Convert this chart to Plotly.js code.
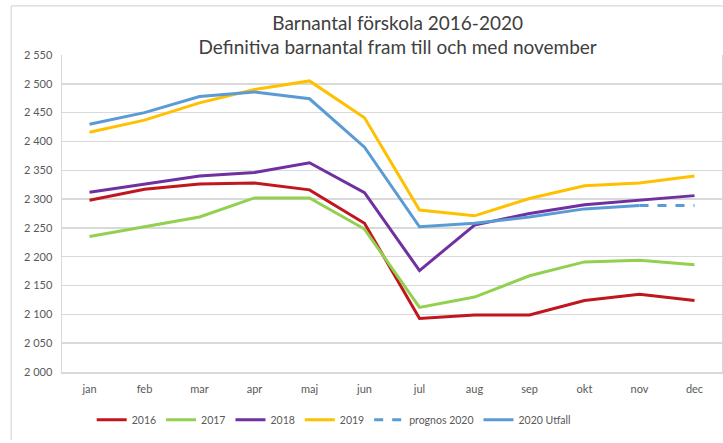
<!DOCTYPE html>
<html>
<head>
<meta charset="utf-8">
<script src="https://cdn.plot.ly/plotly-3.0.1.min.js"></script>
<style>html,body{margin:0;padding:0;background:#fff;}#chart{width:723px;height:443px;}</style>
</head>
<body>
<div id="chart"></div>
<script>
const months = ["jan","feb","mar","apr","maj","jun","jul","aug","sep","okt","nov","dec"];
const y2016 = [2298,2317,2326,2328,2316,2258,2093,2099,2099,2124,2135,2124];
const y2017 = [2235,2252,2269,2302,2302,2248,2112,2130,2167,2191,2194,2186];
const y2018 = [2312,2326,2340,2346,2363,2311,2176,2255,2275,2290,2298,2306];
const y2019 = [2416,2437,2467,2490,2505,2441,2281,2271,2301,2323,2328,2340];
const prognos2020 = [null,null,null,null,null,null,null,null,null,null,2289,2289];
const utfall2020 = [2430,2450,2478,2486,2474,2390,2252,2258,2269,2283,2289,null];
const seriesNames = ["2016","2017","2018","2019","prognos 2020","2020 Utfall"];
const yTicks = [2000,2050,2100,2150,2200,2250,2300,2350,2400,2450,2500,2550];

const colors = ["#c0161d","#92d050","#7030a0","#ffc000","#5b9bd5","#5b9bd5"];
const data = [y2016,y2017,y2018,y2019,prognos2020,utfall2020];
const traces = data.map((d,i)=>({
  type:"scatter", mode:"lines", x:months, y:d, name:seriesNames[i],
  line:{color:colors[i], width:3, dash: i===4 ? "dash" : "solid"},
  connectgaps:false
}));

const font = "Lato, 'DejaVu Sans', sans-serif";
const layout = {
  width:723, height:443,
  margin:{l:62, r:1, t:55, b:71},
  paper_bgcolor:"#fff", plot_bgcolor:"#fff",
  separators:", ",
  font:{family:font, color:"#595959", size:11},
  title:{text:"Barnantal förskola 2016-2020<br>Definitiva barnantal fram till och med november",
    font:{family:font, size:19, color:"#404040"}, x:0.55, xanchor:"center", y:0.933, yanchor:"top"},
  xaxis:{type:"category", tickvals:months, showgrid:false, showline:true, linecolor:"#d9d9d9", linewidth:1.5,
    ticks:"", tickfont:{size:11}, range:[-0.5,11.5], fixedrange:true, ticklabelstandoff:6},
  yaxis:{range:[2000,2550], tickvals:yTicks, tickformat:",d", showgrid:true, gridcolor:"#d9d9d9", gridwidth:1.5,
    showline:true, linecolor:"#d9d9d9", linewidth:1.5, mirror:true, zeroline:false, ticks:"", tickfont:{size:11}, ticklabelstandoff:6},
  showlegend:true,
  legend:{orientation:"h", x:0.045, xanchor:"left", y:-0.151, yanchor:"middle", font:{size:10.5}, itemwidth:30, tracegroupgap:0},
  shapes:[
    {type:"line", xref:"paper", yref:"paper", x0:-0.077, x1:-0.077, y0:1.155, y1:-0.215, line:{color:"#d9d9d9", width:1.2}},
    {type:"line", xref:"paper", yref:"paper", x0:-0.077, x1:1.01, y0:1.155, y1:1.155, line:{color:"#d9d9d9", width:1.2}}
  ]
};
Plotly.newPlot("chart", traces, layout, {displayModeBar:false, staticPlot:true});
</script>
</body>
</html>
